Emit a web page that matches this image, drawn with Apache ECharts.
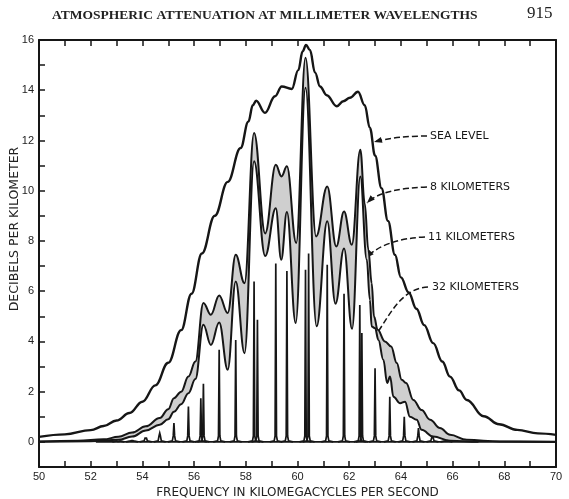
<!DOCTYPE html>
<html><head><meta charset="utf-8">
<script src="https://cdn.jsdelivr.net/npm/echarts@6/dist/echarts.min.js"></script>
<style>html,body{margin:0;padding:0;background:#fff}#c{width:569px;height:499px}</style>
</head><body><div id="c"></div>
<script>
// ---- data ----
const xTicks = [50, 52, 54, 56, 58, 60, 62, 64, 66, 68, 70];
const yTicks = [0, 2, 4, 6, 8, 10, 12, 14, 16];

// Sea level attenuation [GHz, dB/km]
const seaLevel = [
  [50.0, 0.2], [51.0, 0.3], [52.0, 0.47], [52.5, 0.63], [53.0, 0.85], [53.5, 1.15],
  [54.0, 1.6], [54.5, 2.25], [55.0, 3.15], [55.5, 4.45], [55.9, 5.9], [56.3, 7.5],
  [56.8, 9.0], [57.3, 10.35], [57.8, 11.7], [58.1, 12.75], [58.27, 13.4], [58.4, 13.58],
  [58.74, 13.1], [59.13, 13.76], [59.39, 14.15], [59.78, 14.05], [60.03, 14.8], [60.2, 15.55],
  [60.33, 15.8], [60.48, 15.6], [60.68, 14.7], [60.87, 14.15], [61.13, 13.8], [61.52, 13.36],
  [61.77, 13.56], [62.03, 13.7], [62.34, 13.94], [62.6, 13.4], [62.8, 12.5], [63.0, 11.4],
  [63.25, 10.1], [63.5, 8.8], [63.77, 7.45], [64.0, 6.55], [64.3, 5.95], [64.6, 5.3],
  [64.9, 4.65], [65.25, 3.93], [65.6, 3.2], [65.9, 2.6], [66.25, 2.05], [66.55, 1.67],
  [67.2, 1.02], [67.8, 0.7], [68.5, 0.48], [69.3, 0.34], [70.0, 0.28]
];

// 8 km altitude
const km8 = [
  [50.0, 0.02], [51.5, 0.05], [52.5, 0.1], [53.07, 0.2], [53.6, 0.37], [54.13, 0.62],
  [54.67, 0.95], [55.0, 1.3], [55.22, 1.74], [55.5, 2.0], [55.78, 2.6], [56.05, 3.2],
  [56.36, 5.53], [56.65, 5.06], [56.97, 5.83], [57.3, 5.13], [57.61, 7.45], [57.95, 6.32],
  [58.32, 12.3], [58.75, 8.3], [59.16, 11.03], [59.38, 10.57], [59.59, 10.97], [59.95, 7.92],
  [60.31, 15.29], [60.72, 8.18], [61.15, 10.17], [61.5, 7.78], [61.8, 9.17], [62.1, 7.85],
  [62.43, 11.63], [62.6, 9.5], [62.74, 7.65], [62.87, 6.32], [62.96, 4.99], [63.1, 4.46],
  [63.38, 4.0], [63.62, 3.8], [63.84, 3.14], [64.03, 2.47], [64.2, 2.34], [64.48, 1.67],
  [64.8, 1.27], [65.13, 0.88], [65.51, 0.55], [65.9, 0.28], [66.55, 0.08], [67.83, 0.02], [70.0, 0.01]
];

// 11 km altitude
const km11 = [
  [50.0, 0.01], [52.0, 0.03], [53.07, 0.08], [53.6, 0.21], [54.13, 0.45], [54.67, 0.68],
  [55.0, 0.9], [55.22, 1.2], [55.5, 1.5], [55.78, 1.94], [56.05, 2.5], [56.36, 4.66],
  [56.65, 3.86], [56.97, 4.75], [57.3, 2.87], [57.61, 6.39], [57.95, 3.53], [58.32, 11.17],
  [58.75, 7.4], [59.16, 9.3], [59.37, 7.25], [59.59, 9.15], [59.93, 4.73], [60.31, 14.1],
  [60.74, 4.6], [61.15, 8.78], [61.47, 5.5], [61.8, 7.7], [62.11, 4.5], [62.43, 10.57],
  [62.68, 7.25], [62.8, 5.66], [62.87, 4.59], [63.0, 4.53], [63.13, 4.06], [63.32, 3.27],
  [63.47, 2.34], [63.58, 2.6], [63.71, 1.8], [63.97, 1.54], [64.16, 1.6], [64.35, 1.0],
  [64.61, 0.88], [64.8, 0.48], [65.25, 0.21], [65.9, 0.05], [67.0, 0.01], [70.0, 0.0]
];

// 32 km altitude: individual resolved line peaks
const lineFreqs = [53.07, 53.6, 54.13, 54.67, 55.22, 55.78, 56.26, 56.36, 56.97, 57.61, 58.32, 58.45,
  59.16, 59.59, 60.31, 60.43, 61.15, 61.8, 62.41, 62.49, 63.0, 63.57, 64.13, 64.68, 65.22, 65.76];
const km32Peaks = [0.02, 0.05, 0.15, 0.35, 0.75, 1.41, 1.74, 2.31, 3.67, 4.06, 6.39, 4.86,
  7.1, 6.8, 6.85, 7.5, 7.05, 5.9, 5.45, 4.33, 2.93, 1.8, 1.0, 0.55, 0.17, 0.05];
const km32Span = [52.2, 67.0];

// ---- chart ----
const chart = echarts.init(document.getElementById('c'), null, {renderer: 'canvas'});
const INK = '#161616';
const spikeData = lineFreqs.map((f, i) => [f, km32Peaks[i]]);

const annotations = [
  {text: 'SEA LEVEL', tx: 430, ty: 136, path: [[427, 136], [408, 136], [388, 138], [374, 142]]},
  {text: '8 KILOMETERS', tx: 430, ty: 187, path: [[427, 187], [400, 188], [378, 192], [367, 203]]},
  {text: '11 KILOMETERS', tx: 428, ty: 237, path: [[425, 237], [400, 238], [378, 245], [366, 258]]},
  {text: '32 KILOMETERS', tx: 432, ty: 287, path: [[428, 287], [392, 289], [384, 336], [363, 347]]}
];
const graphics = [
  {type: 'text', left: 52, top: 9, style: {text: 'ATMOSPHERIC ATTENUATION AT MILLIMETER WAVELENGTHS', font: 'bold 13.5px "Liberation Serif", serif', fill: '#222'}},
  {type: 'text', left: 527, top: 5, style: {text: '915', font: '17px "Liberation Serif", serif', fill: '#222'}},
  {type: 'text', x: 15, y: 229, rotation: Math.PI / 2, style: {text: 'DECIBELS PER KILOMETER', font: '12.5px "DejaVu Sans", sans-serif', fill: '#222', align: 'center', verticalAlign: 'middle'}}
];
annotations.forEach(a => {
  const p = a.path;
  graphics.push({type: 'text', x: a.tx, y: a.ty, style: {text: a.text, font: '11px "DejaVu Sans", sans-serif', fill: INK, verticalAlign: 'middle'}});
  graphics.push({type: 'bezierCurve', shape: {x1: p[0][0], y1: p[0][1], cpx1: p[1][0], cpy1: p[1][1], cpx2: p[2][0], cpy2: p[2][1], x2: p[3][0], y2: p[3][1]},
    style: {stroke: INK, lineWidth: 1.5, lineDash: [6, 3], fill: null}});
  const dx = p[3][0] - p[2][0], dy = p[3][1] - p[2][1], L = Math.hypot(dx, dy);
  const ux = dx / L, uy = dy / L;
  const tip = p[3], bx = tip[0] - ux * 8, by = tip[1] - uy * 8;
  graphics.push({type: 'polygon', shape: {points: [[tip[0], tip[1]], [bx - uy * 3, by + ux * 3], [bx + uy * 3, by - ux * 3]]}, style: {fill: INK}});
});

const option = {
  animation: false,
  backgroundColor: '#fff',
  grid: {left: 39, right: 13, top: 40, bottom: 32, containLabel: false, outerBoundsMode: 'none'},
  xAxis: [
    {type: 'value', min: 50, max: 70, interval: 1, position: 'bottom',
      axisLine: {onZero: false, lineStyle: {color: INK, width: 2}},
      axisTick: {inside: true, length: 6, lineStyle: {color: INK, width: 1.5}},
      axisLabel: {margin: 4, color: '#222', fontSize: 11, fontFamily: '"Liberation Sans", sans-serif',
        formatter: v => xTicks.includes(v) ? String(v) : ''},
      splitLine: {show: false},
      name: 'FREQUENCY IN KILOMEGACYCLES PER SECOND', nameLocation: 'middle', nameGap: 14,
      nameTextStyle: {fontSize: 12, fontFamily: '"DejaVu Sans", sans-serif', color: '#222'}},
    {type: 'value', min: 50, max: 70, interval: 1, position: 'top',
      axisLine: {onZero: false, lineStyle: {color: INK, width: 2}},
      axisTick: {inside: true, length: 6, lineStyle: {color: INK, width: 1.5}},
      axisLabel: {show: false}, splitLine: {show: false}}
  ],
  yAxis: [
    {type: 'value', min: -1, max: 16, interval: 1, position: 'left',
      axisLine: {onZero: false, lineStyle: {color: INK, width: 2}},
      axisTick: {inside: true, length: 6, lineStyle: {color: INK, width: 1.5}},
      axisLabel: {margin: 5, color: '#222', fontSize: 11, fontFamily: '"Liberation Sans", sans-serif',
        formatter: v => yTicks.includes(v) ? String(v) : ''},
      splitLine: {show: false}},
    {type: 'value', min: -1, max: 16, interval: 1, position: 'right',
      axisLine: {onZero: false, lineStyle: {color: INK, width: 2}},
      axisTick: {show: false}, axisLabel: {show: false}, splitLine: {show: false}}
  ],
  graphic: graphics,
  series: [
    {name: '8 km', type: 'line', data: km8, smooth: 0.4, smoothMonotone: 'x', showSymbol: false, z: 2,
      lineStyle: {color: INK, width: 2}, areaStyle: {color: '#cfcfcf', opacity: 1}},
    {name: '11 km', type: 'line', data: km11, smooth: 0.4, smoothMonotone: 'x', showSymbol: false, z: 3,
      lineStyle: {color: INK, width: 2}, areaStyle: {color: '#ffffff', opacity: 1}},
    {name: '32 km base', type: 'line', data: km32Span.map(f => [f, 0]), showSymbol: false, z: 4,
      lineStyle: {color: INK, width: 1.6}},
    {name: '32 km', type: 'custom', data: spikeData, z: 5,
      renderItem: (params, api) => {
        const f = api.value(0), h = api.value(1);
        const b = api.coord([f, 0]), t = api.coord([f, h]);
        const foot = Math.min(6, b[1] - t[1]);
        return {type: 'polyline', shape: {points: [[b[0] - 6, b[1]], [b[0] - 1.6, b[1] - 1], [b[0] - 0.7, b[1] - foot], [t[0], t[1]], [b[0] + 0.7, b[1] - foot], [b[0] + 1.6, b[1] - 1], [b[0] + 6, b[1]]]},
          style: {stroke: INK, lineWidth: 1.7, fill: null}};
      }},
    {name: 'Sea level', type: 'line', data: seaLevel, smooth: 0.4, smoothMonotone: 'x', showSymbol: false, z: 6,
      lineStyle: {color: INK, width: 2.4}}
  ]
};
chart.setOption(option);
</script>
</body></html>
